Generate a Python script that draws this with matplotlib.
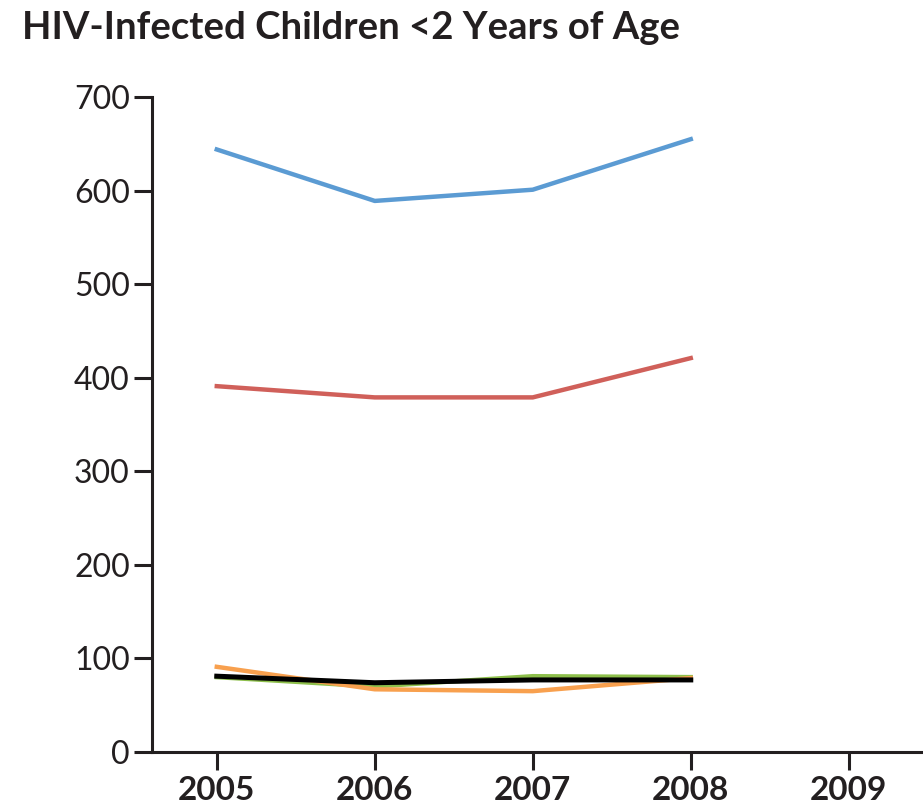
import matplotlib.pyplot as plt

years = [2005, 2006, 2007, 2008]
tick_years = [2005, 2006, 2007, 2008, 2009]
blue = [644, 589, 601, 655]
red = [391, 379, 379, 421]
green = [80, 70, 81, 80]
orange = [91, 67, 65, 79]
black = [81, 74, 77, 77]
yticks = [0, 100, 200, 300, 400, 500, 600, 700]


def main():
    plt.rcParams["font.family"] = ["Lato", "DejaVu Sans"]
    fig = plt.figure(figsize=(9.23, 8.09), dpi=100)
    ax = fig.add_axes([0.1647, 0.0705, 0.8353, 0.8095])

    ax.plot(years, blue, color="#5b9bd3", lw=3.2)
    ax.plot(years, red, color="#d0605a", lw=3.2)
    ax.plot(years, green, color="#8dbf4b", lw=3.2)
    ax.plot(years, orange, color="#f8a04e", lw=3.2)
    ax.plot(years, black, color="black", lw=3.6)

    ax.set_xlim(2004.59, 2009.47)
    ax.set_ylim(0, 700)
    ax.set_xticks(tick_years)
    ax.set_xticklabels([str(y) for y in tick_years], fontsize=24, fontweight="bold",
                       color="#231f20")
    ax.set_yticks(yticks)
    ax.set_yticklabels([str(v) for v in yticks], fontsize=23, color="#231f20")

    for s in ["top", "right"]:
        ax.spines[s].set_visible(False)
    for s in ["left", "bottom"]:
        ax.spines[s].set_linewidth(2.2)
        ax.spines[s].set_color("#231f20")
    ax.tick_params(axis="both", length=13, width=2.2, color="#231f20")
    ax.tick_params(axis="y", pad=3)
    ax.tick_params(axis="x", pad=4)

    fig.text(0.024, 0.965, "HIV-Infected Children <2 Years of Age", fontsize=27.5,
             fontweight="bold", color="#231f20", va="center", ha="left")

    fig.savefig("out.png")


if __name__ == "__main__":
    main()
